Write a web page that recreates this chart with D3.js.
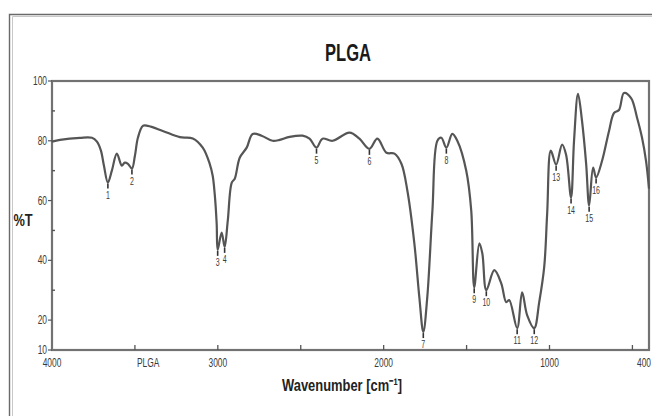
<!DOCTYPE html>
<html><head><meta charset="utf-8">
<script src="https://cdn.jsdelivr.net/npm/d3@7"></script>
<style>
html,body{margin:0;padding:0;background:#fff;overflow:hidden}
svg{display:block}
text{font-family:"Liberation Sans Narrow","Arial Narrow","Liberation Sans",Arial,sans-serif}
</style></head>
<body>
<svg id="c" width="652" height="416"></svg>
<script>
// ---- data ----
const wavenumbers = [4000,3952,3831,3759,3729,3705,3687,3663,3639,3609,3579,3561,3542,3518,3500,3482,3452,3422,3332,3229,3151,3091,3049,3031,3019,3007,3001,2977,2959,2940,2916,2898,2868,2826,2790,2736,2670,2627,2567,2489,2447,2405,2369,2308,2206,2146,2086,2038,1983,1935,1893,1857,1815,1785,1761,1737,1706,1676,1652,1622,1586,1556,1502,1472,1454,1423,1405,1381,1333,1291,1261,1243,1195,1165,1135,1092,1062,1032,1014,992,960,924,900,870,852,828,804,779,761,737,719,683,641,611,581,551,508,472,442,418,400];
const transmittance = [79.7,80.3,81,81,79.7,76.7,71.7,66,70,75.7,71.7,72.7,72.3,70.7,75,81,85,85,83.3,81.2,80.8,77.7,72.3,68.3,62.3,52.3,43.5,49.3,44.5,53.3,66,67.3,74.3,77.7,82.3,81.7,80,80.3,81.3,81.7,80.7,77.7,80.7,80,82.7,80.7,77.3,80.7,76,75.7,72.3,63.3,45.7,27.7,16,27.7,56.7,80,81,77.7,82.3,80,70,56.7,31,45.7,42.3,30,36.7,32.3,26,26.7,17.3,29.3,21.7,17.3,26,37.7,55.7,76.7,72,78.7,75.3,61,80,95.7,86.7,72.3,58.3,71,67.7,73.3,83.3,89.3,90.3,96,94.3,87.7,81,73.3,64];
const peakNumbers = ["1","2","3","4","5","6","7","8","9","10","11","12","13","14","15","16"];
const peakWavenumbers = [3663,3518,3001,2959,2405,2086,1761,1622,1454,1381,1195,1092,960,870,761,719];
const peakTransmittance = [66,70.7,43.5,44.5,77.7,77.3,16,77.7,31,30,17.3,17.3,72,61,58.3,67.7];
const yTickValues = [100,80,60,40,20,10];
const yMinorValues = [90,70,50,30];
const xTickValues = [3500,3000,2500,2000,1500,1000,500];
const xLabelValues = [4000,3420,3000,2000,1000,400];
const xLabelTexts = ["4000","PLGA","3000","2000","1000","400"];
const titleText = "PLGA";
const xTitle = "Wavenumber [cm\u207B\u00B9]";
const yTitle = "%T";

// ---- layout ----
const svg = d3.select("#c");
const L = 52, R = 649, T = 81, B = 350;
const x = d3.scaleLinear().domain([4000,400]).range([L,R]);
const y = d3.scaleLinear().domain([10,100]).range([B,T]);

// condensed text helper
function ntext(g, px, py, str, size, opts={}) {
  return g.append("text")
    .attr("transform", `translate(${px},${py}) scale(${opts.sx||0.78},1)`)
    .attr("text-anchor", opts.anchor||"middle")
    .attr("font-size", size)
    .attr("font-weight", opts.bold ? "bold" : "normal")
    .attr("fill", opts.fill||"#3a3a3a")
    .text(str);
}

// outer frame
svg.append("path").attr("d","M9.5,416 V14.5 H652").attr("fill","none").attr("stroke","#6a6a6a").attr("stroke-width",1.4);
svg.append("path").attr("d","M12.5,416 V16.5 H652").attr("fill","none").attr("stroke","#c8c8c8").attr("stroke-width",1);

// title
ntext(svg, 348, 61, titleText, 23, {bold:true, fill:"#1a1a1a", sx:0.72});

// plot box
svg.append("rect").attr("x",L).attr("y",T).attr("width",R-L).attr("height",B-T)
  .attr("fill","none").attr("stroke","#727272").attr("stroke-width",2.2);

// y axis ticks + labels
const gy = svg.append("g");
gy.selectAll("line").data(yTickValues).join("line")
  .attr("x1",L-4).attr("x2",L).attr("y1",d=>y(d)).attr("y2",d=>y(d))
  .attr("stroke","#555").attr("stroke-width",1.2);
yTickValues.forEach(v => ntext(gy, L-5, y(v)+4, String(v), 12, {anchor:"end", sx:0.7}));
svg.append("g").selectAll("line").data(yMinorValues).join("line")
  .attr("x1",L).attr("x2",L+3).attr("y1",d=>y(d)).attr("y2",d=>y(d))
  .attr("stroke","#555").attr("stroke-width",1.4);

// x axis ticks (inward) + labels
svg.append("g").selectAll("line").data(xTickValues).join("line")
  .attr("x1",d=>x(d)).attr("x2",d=>x(d)).attr("y1",B).attr("y2",B-5)
  .attr("stroke","#555").attr("stroke-width",1.3);
const gx = svg.append("g");
xLabelValues.forEach((v,i) => {
  const last = i === xLabelValues.length-1;
  ntext(gx, last ? 651 : x(v), B+17, xLabelTexts[i], 12, {sx:0.7, anchor: last ? "end" : "middle"});
});

// axis titles
ntext(svg, 23, 226, yTitle, 16, {bold:true, fill:"#222", sx:0.8});
ntext(svg, 342, 391, xTitle, 17, {bold:true, fill:"#222", sx:0.76});

// spectrum
const pts = wavenumbers.map((w,i)=>[w,transmittance[i]]);
const line = d3.line().x(d=>x(d[0])).y(d=>y(d[1])).curve(d3.curveCatmullRom.alpha(0.5));
svg.append("path").datum(pts).attr("d",line).attr("fill","none")
  .attr("stroke","#555").attr("stroke-width",2.2).attr("stroke-linejoin","round");

// peak markers and labels
const pk = svg.append("g");
pk.selectAll("line").data(peakWavenumbers).join("line")
  .attr("x1",d=>x(d)).attr("x2",d=>x(d))
  .attr("y1",(d,i)=>y(peakTransmittance[i])+1).attr("y2",(d,i)=>y(peakTransmittance[i])+6)
  .attr("stroke","#333").attr("stroke-width",1.6);
peakWavenumbers.forEach((w,i) => {
  ntext(pk, x(w), Math.min(y(peakTransmittance[i])+16, B-2), peakNumbers[i], 10, {sx:0.7});
});
</script>
</body></html>
